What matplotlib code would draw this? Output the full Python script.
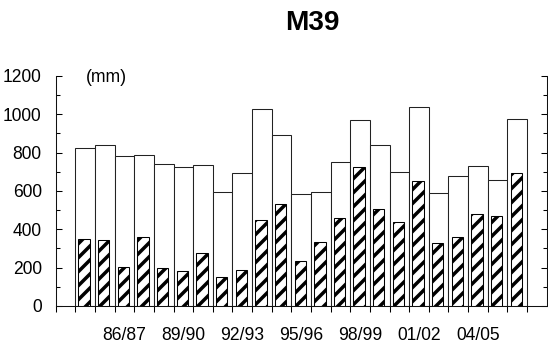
import numpy as np
import matplotlib
matplotlib.use("Agg")
import matplotlib.pyplot as plt

seasons = ["84/85", "85/86", "86/87", "87/88", "88/89", "89/90", "90/91", "91/92",
           "92/93", "93/94", "94/95", "95/96", "96/97", "97/98", "98/99", "99/00",
           "00/01", "01/02", "02/03", "03/04", "04/05", "05/06", "06/07"]
total_mm = [824, 838, 784, 790, 743, 723, 738, 593, 692, 1030, 894, 583,
            597, 750, 969, 842, 699, 1040, 588, 678, 729, 656, 976]
part_mm = [351, 343, 203, 358, 196, 184, 277, 151, 186, 449, 530, 235,
           334, 457, 727, 508, 437, 652, 330, 358, 478, 470, 692]
shown_labels = ["86/87", "89/90", "92/93", "95/96", "98/99", "01/02", "04/05"]

plt.rcParams["font.family"] = ["Liberation Sans Narrow", "Liberation Sans", "DejaVu Sans"]
plt.rcParams["hatch.linewidth"] = 3.0
plt.rcParams["hatch.color"] = "black"

dpi = 84
fig = plt.figure(figsize=(548 / dpi, 347 / dpi), dpi=dpi)
ax = fig.add_axes([0.1016, 0.1182, 0.896, 0.6628])

x = np.arange(len(seasons))
ax.bar(x + 0.5, total_mm, width=1.0, color="white", edgecolor="#222222", linewidth=0.9, zorder=2)
ax.bar(x + 0.45, part_mm, width=0.58, color="white", edgecolor="black", hatch="//",
       linewidth=0.9, zorder=3)

ax.set_xlim(-1, 24)
ax.set_ylim(0, 1200)

ax.spines["top"].set_visible(False)
for s in ["left", "right", "bottom"]:
    ax.spines[s].set_linewidth(0.9)
    ax.spines[s].set_color("#111111")

# x: tick marks at slot boundaries, labels at every third season
ax.set_xticks(np.arange(-1, 24))
ax.set_xticklabels([])
label_pos = [seasons.index(s) + 0.5 for s in shown_labels]
ax.set_xticks(label_pos, minor=True)
ax.set_xticklabels(shown_labels, minor=True, fontsize=15)
ax.tick_params(axis="x", which="major", direction="out", length=5, width=0.9)
ax.tick_params(axis="x", which="minor", length=0, pad=18)

ax.set_yticks(np.arange(0, 1201, 200))
ax.set_yticks(np.arange(100, 1200, 200), minor=True)
ax.tick_params(axis="y", which="major", direction="in", length=5, width=0.9,
               right=True, labelsize=15, pad=12)
ax.tick_params(axis="y", which="minor", direction="in", length=3.5, width=0.9, right=True)

ax.text(0.54, 1190, "(mm)", fontsize=15, va="center", ha="left")

fig.text(0.570, 0.934, "M39", fontsize=24, fontweight="bold",
         family=["Liberation Sans", "DejaVu Sans"], ha="center", va="center")

fig.savefig("out.png", dpi=dpi)
